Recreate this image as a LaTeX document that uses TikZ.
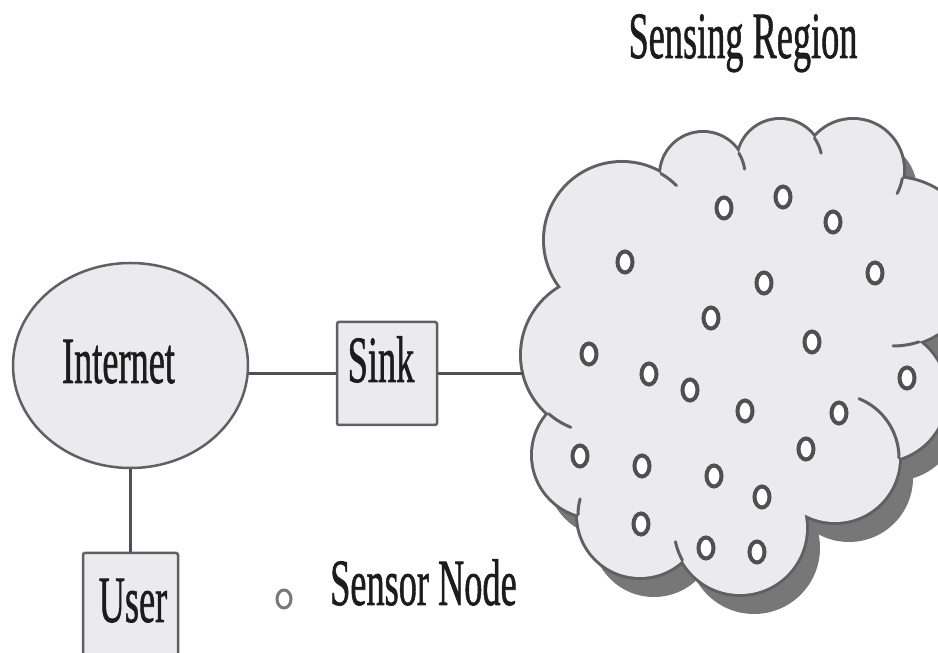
\documentclass[tikz,border=0pt]{standalone}
\usepackage{fontspec}
\setmainfont{Liberation Serif}
\newfontfamily\labelfont{Liberation Serif}[FakeBold=1.2]
\usetikzlibrary{shapes.geometric}
\definecolor{cloudfill}{HTML}{EBEBEE}
\definecolor{edgegray}{HTML}{606060}
\definecolor{shadowgray}{HTML}{777777}
\definecolor{wiregray}{HTML}{505050}
\definecolor{inkblack}{HTML}{1C1C1C}
\newcommand{\narrowtext}[1]{\scalebox{0.55}[1]{#1}}
% bumps of the cloud: centre x / centre y / radius
\newcommand{\cloudbumps}{600/298/78, 622/413/77, 703/478/42, 780/491/42, 853/483/50, 893/391/84, 880/258/66, 835/195/64, 740/125/66, 640/138/62, 595/198/62}
% inner strokes of the cloud: centre x / centre y / radius / start / end
\newcommand{\cloudtails}{622/413/77/59.6/45, 600/298/78/228.8/248, 703/478/42/31.2/8, 780/491/42/34.8/12, 853/483/50/-9.8/-28, 893/391/84/288/270, 835/195/64/0/68, 740/125/66/209.3/192, 640/138/62/179.7/165}
\begin{document}
\begin{tikzpicture}[x=1pt,y=1pt,
  lbl/.style={inner sep=0pt, text=inkblack, font={\labelfont\fontsize{66}{70}\selectfont}},
  netbox/.style={draw=edgegray, fill=cloudfill, line width=2.5pt, rounded corners=2pt, inner sep=0pt},
  sensor/.style={ellipse, draw=wiregray, fill=white, line width=4pt, minimum width=15pt, minimum height=21pt, inner sep=0pt},
  wire/.style={draw=wiregray, line width=3pt},
  tail/.style={draw=edgegray, line width=3pt, line cap=round}]
\useasboundingbox (0,0) rectangle (938,653);
\clip (0,0) rectangle (938,653);

% ---- sensing region (cloud) ----
\begin{scope}[shift={(14,-20)}]
  \foreach \cx/\cy/\r in \cloudbumps {\fill[shadowgray] (\cx,\cy) circle[radius=\r];}
  \fill[shadowgray] (600,298) -- (622,413) -- (703,478) -- (780,491) -- (853,483) -- (893,391) -- (880,258) -- (835,195) -- (740,125) -- (640,138) -- (595,198) -- cycle;
\end{scope}
\foreach \cx/\cy/\r in \cloudbumps {\draw[edgegray, line width=6pt] (\cx,\cy) circle[radius=\r];}
\foreach \cx/\cy/\r in \cloudbumps {\fill[cloudfill] (\cx,\cy) circle[radius=\r];}
\fill[cloudfill] (600,298) -- (622,413) -- (703,478) -- (780,491) -- (853,483) -- (893,391) -- (880,258) -- (835,195) -- (740,125) -- (640,138) -- (595,198) -- cycle;
\foreach \cx/\cy/\r/\a/\b in \cloudtails {\draw[tail] (\cx,\cy) ++(\a:\r) arc[start angle=\a, end angle=\b, radius=\r];}
\coordinate (cloudport) at (524,279.5);

% ---- sensor nodes ----
\foreach \sx/\sy [count=\i] in {724/445, 783/456, 833/431, 625/391, 764/370, 875/380, 711/335, 812/311, 589/299, 649/279, 690/263, 745/242, 907/275, 839/240, 806/204, 580/197, 642/187, 714/177, 762/156, 641/129, 706/105, 757/101}
  {\node[sensor] (s\i) at (\sx,\sy) {};}

% ---- network elements ----
\node[ellipse, draw=edgegray, fill=cloudfill, line width=2.5pt, minimum width=235pt, minimum height=205pt, inner sep=0pt] (internet) at (130.5,287.5) {};
\node[netbox, minimum width=100pt, minimum height=103pt] (sink) at (387,279.5) {};
\node[netbox, minimum width=95pt, minimum height=130pt] (user) at (130.5,35) {};

\draw[wire] (internet.east |- sink.west) -- (sink.west);
\draw[wire] (sink.east) -- (cloudport);
\draw[wire] (internet.south) -- (user.north);

% ---- labels ----
\node[lbl, anchor=base] (internetlabel) at (118.5,270) {\narrowtext{Internet}};
\node[lbl, anchor=base] (sinklabel) at (381,271) {\narrowtext{Sink}};
\node[lbl, anchor=base] (userlabel) at (133,31) {\narrowtext{User}};
\node[lbl, anchor=base] (title) at (743,595) {\narrowtext{Sensing Region}};
\node[ellipse, draw=edgegray!85, fill=white, line width=3pt, minimum width=14pt, minimum height=18pt, inner sep=0pt] (legendnode) at (284,54) {};
\node[lbl, anchor=base west] (legendlabel) at (330,48) {\narrowtext{Sensor Node}};
\end{tikzpicture}
\end{document}
